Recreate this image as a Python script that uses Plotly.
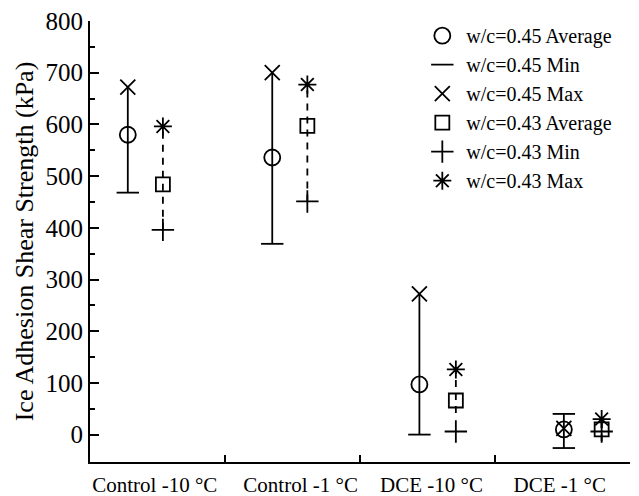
import plotly.graph_objects as go

categories = ["Control -10 °C", "Control -1 °C", "DCE -10 °C", "DCE -1 °C"]
label_pos = [0.98, 2.06, 3.03, 3.98]
boundaries = [1.5, 2.5, 3.5]

# w/c = 0.45
x_045 = [0.78, 1.85, 2.94, 4.01]
avg_045 = [580, 536, 97, 10]
min_045 = [468, 369, 0, -26]
max_045 = [672, 700, 272, 12]
bar_hi_045 = [672, 700, 272, 40]

# w/c = 0.43
x_043 = [1.04, 2.11, 3.21, 4.29]
avg_043 = [484, 597, 66, 10]
min_043 = [396, 451, 6, 6]
max_043 = [596, 677, 126, 30]
bar_lo_043 = [396, 451, 42, -13]
bar_hi_043 = [596, 677, 126, 30]

FONT = "Liberation Serif, Times New Roman, serif"
BLACK = "#000000"

fig = go.Figure()

# vertical solid lines for 0.45
lx, ly = [], []
for x, lo, hi in zip(x_045, min_045, bar_hi_045):
    lx += [x, x, None]
    ly += [lo, hi, None]
fig.add_trace(go.Scatter(x=lx, y=ly, mode="lines", line=dict(color=BLACK, width=1.8),
                         showlegend=False, hoverinfo="skip"))
# dashed lines for 0.43
lx, ly = [], []
for x, lo, hi in zip(x_043, bar_lo_043, bar_hi_043):
    lx += [x, x, None]
    ly += [lo, hi, None]
fig.add_trace(go.Scatter(x=lx, y=ly, mode="lines",
                         line=dict(color=BLACK, width=1.8, dash="7px,6px"),
                         showlegend=False, hoverinfo="skip"))
# upper cap where bar exceeds max (0.45)
cx = [x for x, h, m in zip(x_045, bar_hi_045, max_045) if h > m + 5]
cy = [h for h, m in zip(bar_hi_045, max_045) if h > m + 5]
fig.add_trace(go.Scatter(x=cx, y=cy, mode="markers",
                         marker=dict(symbol="line-ew-open", size=16, color=BLACK,
                                     line=dict(color=BLACK, width=1.8)),
                         showlegend=False, hoverinfo="skip"))

def add_pts(xs, ys, name, symbol, size):
    fig.add_trace(go.Scatter(x=xs, y=ys, mode="markers", name=name,
                             marker=dict(symbol=symbol, size=size, color=BLACK,
                                         line=dict(color=BLACK, width=1.8))))

add_pts(x_045, avg_045, "w/c=0.45 Average", "circle-open", 16)
add_pts(x_045, min_045, "w/c=0.45 Min", "line-ew-open", 16)
add_pts(x_045, max_045, "w/c=0.45 Max", "x-thin-open", 15)
add_pts(x_043, avg_043, "w/c=0.43 Average", "square-open", 14)
add_pts(x_043, min_043, "w/c=0.43 Min", "cross-thin-open", 16)
add_pts(x_043, max_043, "w/c=0.43 Max", "asterisk-open", 15)

# invisible trace for secondary x axis (boundary ticks)
fig.add_trace(go.Scatter(x=[0.5, 4.5], y=[None, None], xaxis="x2", mode="markers",
                         showlegend=False, hoverinfo="skip", marker=dict(opacity=0)))

fig.update_layout(
    width=639, height=496,
    margin=dict(l=90, r=9, t=21, b=34),
    paper_bgcolor="white", plot_bgcolor="white",
    font=dict(family=FONT, color=BLACK, size=22),
    showlegend=True,
    legend=dict(x=0.608, y=1.011, xanchor="left", yanchor="top", bgcolor="rgba(0,0,0,0)",
                font=dict(family=FONT, size=20), itemsizing="trace",
                tracegroupgap=0, itemwidth=38),
    xaxis=dict(range=[0.5, 4.5], tickvals=label_pos, ticktext=categories, ticks="",
               showline=True, linecolor=BLACK, linewidth=2.2, showgrid=False, zeroline=False,
               tickfont=dict(family=FONT, size=21), mirror=False, ticklabelstandoff=3,
               automargin=False),
    xaxis2=dict(range=[0.5, 4.5], overlaying="x", anchor="y", side="bottom",
                tickvals=boundaries, showticklabels=False, ticks="inside", ticklen=7,
                tickwidth=2, tickcolor=BLACK, showline=False, showgrid=False, zeroline=False,
                automargin=False),
    yaxis=dict(range=[-53, 800], tickvals=[0, 100, 200, 300, 400, 500, 600, 700, 800],
               ticks="inside", ticklen=9, tickwidth=2, tickcolor=BLACK,
               minor=dict(tickvals=[50, 150, 250, 350, 450, 550, 650, 750], ticks="inside",
                          ticklen=5, tickwidth=2, tickcolor=BLACK),
               showline=True, linecolor=BLACK, linewidth=2.2, showgrid=False, zeroline=False,
               tickfont=dict(family=FONT, size=25), automargin=False,
               title=dict(text="Ice Adhesion Shear Strength (kPa)", font=dict(family=FONT, size=26),
                          standoff=4)),
)

fig.write_html("out.html")
